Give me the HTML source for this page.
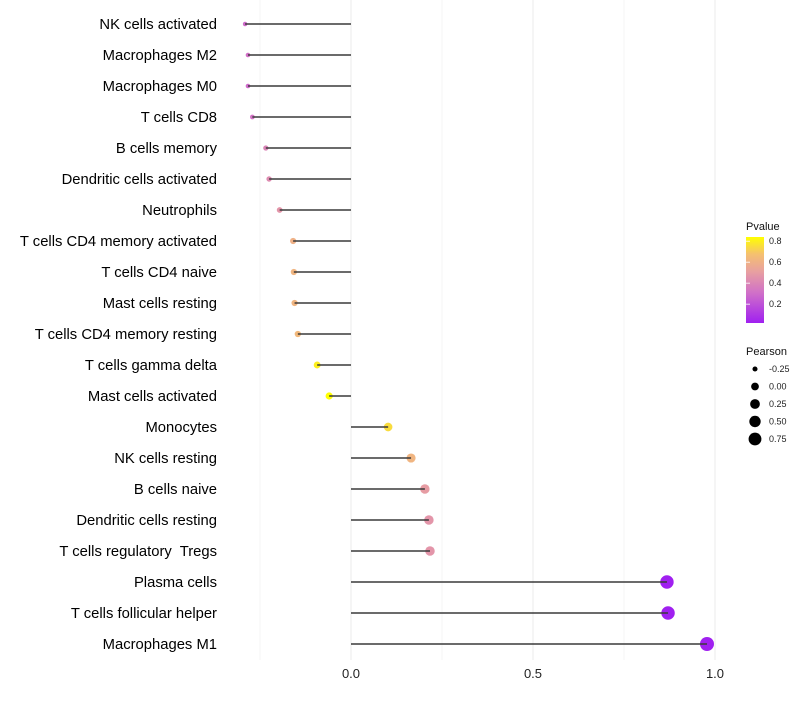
<!DOCTYPE html>
<html><head><meta charset="utf-8"><style>
body{margin:0;background:#fff;font-family:"Liberation Sans",sans-serif;}
text{white-space:pre;}
</style></head><body>
<svg id="chart" width="800" height="700" xmlns="http://www.w3.org/2000/svg" font-family="Liberation Sans, sans-serif">
<defs><linearGradient id="pg" x1="0" y1="1" x2="0" y2="0">
<stop offset="0" stop-color="#a020f0"/><stop offset="0.35" stop-color="#d070c8"/><stop offset="0.6" stop-color="#e8a0a0"/><stop offset="0.8" stop-color="#f5c070"/><stop offset="1" stop-color="#ffff00"/></linearGradient></defs>
<g id="grid"></g>
<g id="marks"></g>
<g id="legend"></g>
</svg>
<script>
const cells=["NK cells activated","Macrophages M2","Macrophages M0","T cells CD8","B cells memory","Dendritic cells activated","Neutrophils","T cells CD4 memory activated","T cells CD4 naive","Mast cells resting","T cells CD4 memory resting","T cells gamma delta","Mast cells activated","Monocytes","NK cells resting","B cells naive","Dendritic cells resting","T cells regulatory  Tregs","Plasma cells","T cells follicular helper","Macrophages M1"];
const pearson=[-0.291,-0.283,-0.283,-0.271,-0.234,-0.225,-0.196,-0.159,-0.157,-0.155,-0.146,-0.093,-0.060,0.102,0.165,0.203,0.214,0.217,0.868,0.871,0.978];
const pvalue=[0.3,0.32,0.3,0.33,0.4,0.43,0.47,0.6,0.62,0.62,0.64,0.8,0.84,0.75,0.62,0.5,0.47,0.47,0.03,0.03,0.03];
const xTicks=[0,0.5,1.0];
const xTickLabels=["0.0","0.5","1.0"];
const minorTicks=[-0.25,0.25,0.75];
const legendPearson=[-0.25,0,0.25,0.5,0.75];
const legendP=[0.2,0.4,0.6,0.8];

const NS="http://www.w3.org/2000/svg";
const X=v=>351+v*364;
const Y=i=>24+i*31;
const R=v=>Math.sqrt(4+45*(v+0.32)/1.3);
const pY=p=>322-(p-0.03)/(0.84-0.03)*85;
const stops=[[0,[160,32,240]],[0.35,[208,112,200]],[0.6,[232,160,160]],[0.8,[245,192,112]],[1,[255,255,0]]];
function col(p){let t=Math.max(0,Math.min(1,(p-0.03)/(0.84-0.03)));for(let i=1;i<stops.length;i++){if(t<=stops[i][0]){const a=stops[i-1],b=stops[i],u=(t-a[0])/(b[0]-a[0]);return 'rgb('+a[1].map((c,k)=>Math.round(c+(b[1][k]-c)*u)).join(',')+')';}}return 'rgb(255,255,0)';}
function mk(tag,attrs,parent,text){const e=document.createElementNS(NS,tag);for(const k in attrs)e.setAttribute(k,attrs[k]);if(text!==undefined)e.textContent=text;parent.appendChild(e);return e;}
const grid=document.getElementById('grid'),marks=document.getElementById('marks'),leg=document.getElementById('legend');
minorTicks.forEach(v=>{const l=mk('line',{x1:X(v),x2:X(v),y1:0,y2:660,stroke:'#f5f5f5','stroke-width':1},grid);

});
xTicks.forEach((v,i)=>{const l=mk('line',{x1:X(v),x2:X(v),y1:0,y2:660,stroke:'#ebebeb','stroke-width':1},grid);


const t=mk('text',{x:X(v),y:678,'text-anchor':'middle','font-size':13,fill:'#222'},grid,xTickLabels[i]);

});
cells.forEach((c,i)=>{const y=Y(i);
const t=mk('text',{x:217,y:y+5,'text-anchor':'end','font-size':14.8,fill:'#000'},marks,c);


const p=mk('circle',{cx:X(pearson[i]),cy:y,r:R(pearson[i]),fill:col(pvalue[i])},marks);


const s=mk('line',{x1:X(0),x2:X(pearson[i]),y1:y,y2:y,stroke:'#3a3a3a','stroke-width':1.4},marks);

});
let t=mk('text',{x:746,y:230,'font-size':11,fill:'#111'},leg,'Pvalue');


const bar=mk('rect',{x:746,y:237,width:18,height:86,fill:'url(#pg)'},leg);


legendP.forEach(p=>{const tt=mk('text',{x:769,y:pY(p)+3,'font-size':9,fill:'#222'},leg,p.toFixed(1));


const tk=mk('line',{x1:746,x2:750,y1:pY(p),y2:pY(p),stroke:'#fff','stroke-width':0.8},leg);

});
t=mk('text',{x:746,y:355,'font-size':11,fill:'#111'},leg,'Pearson');


legendPearson.forEach((v,i)=>{const y=369+i*17.5;
const c=mk('circle',{cx:755,cy:y,r:R(v),fill:'#000'},leg);


const tt=mk('text',{x:769,y:y+3,'font-size':9,fill:'#222'},leg,v.toFixed(2));

});
</script>
</body></html>
